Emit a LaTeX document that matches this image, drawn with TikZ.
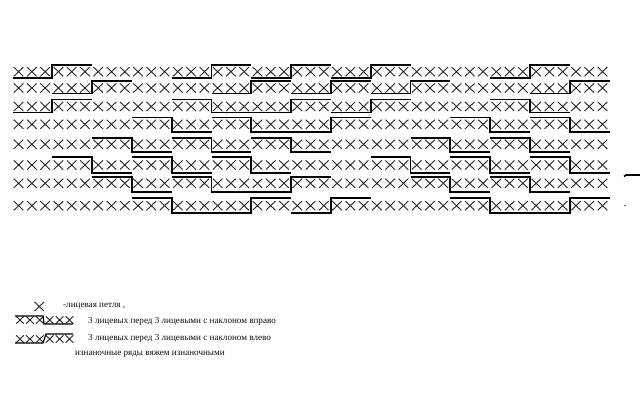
\documentclass[tikz,border=0pt]{standalone}
\usepackage{fontspec}
\setmainfont{Liberation Serif}
\usepackage{xcolor}
\usetikzlibrary{positioning}
\tikzset{
	knit/.pic={\draw[stitch] (-4.8,-4.6) -- (4.8,4.6) (-4.8,4.6) -- (4.8,-4.6);},
	stitch/.style={line width=.9pt,black!85},
	bar/.style={line width=1.7pt,black,line cap=butt,line join=miter},
	legend/.style={font=\fontsize{9.1}{11}\selectfont,inner sep=0pt,anchor=west,black!95}
}
\newcommand{\groupx}[1]{12.5+39.8*#1}

\begin{document}
\begin{tikzpicture}[x=1pt,y=-1pt]
	\useasboundingbox (0,0) rectangle (640,411);
	% row y / top bar / bottom bar / groups rising / groups falling
	\foreach \y/\hi/\lo/\rise/\fall in {
		71.7/65/77.7/{0,4,6,8,12}/{},
		88/81/93.5/{1,5,7,9,13}/{},
		106.5/99.5/112.5/{0,6,8}/{4,12},
		124.3/117.5/132.3/{7}/{3,5,11,13},
		144.3/137.7/152.3/{}/{2,4,6,10,12},
		165/156.7/172.7/{}/{1,3,5,9,11,13},
		183.3/177.3/191.7/{6}/{2,4,10,12},
		205.7/197.7/212.7/{5,7,13}/{3,11}}
	{
		\foreach \n in {0,...,44}
			\pic at (18.6+13.27*\n,\y) {knit};
		\foreach \k in \rise
			\draw[bar] ({\groupx{\k}},\lo) -- ({\groupx{(\k+1)}},\lo) -- ({\groupx{(\k+1)}},\hi) -- ({\groupx{(\k+2)}},\hi);
		\foreach \k in \fall
			\draw[bar] ({\groupx{\k}},\hi) -- ({\groupx{(\k+1)}},\hi) -- ({\groupx{(\k+1)}},\lo) -- ({\groupx{(\k+2)}},\lo);
	}
	
	% marks at the right edge
	\draw[bar] (624,176.5) -- (626,175) -- (640,175);
	\fill[black!80] (625,205.7) circle (.8);
	
	% legend
	\pic at (39.3,306.5) {knit};
	\foreach \n in {0,...,5} {
		\pic[scale=.8] at (20+9.9*\n,320) {knit};
		\pic[scale=.8] at (20+9.9*\n,339) {knit};
	}
	\draw[bar,line width=1.2pt] (15,316) -- (43,316) -- (44,324) -- (73,324);
	\draw[bar,line width=1.2pt] (15,343) -- (43,343) -- (46,334) -- (73,334);
	\node[legend] (looptext) at (63,306.5) {-лицевая петля ,};
	\node[legend] (righttext) at (88,321.5) {3 лицевых перед 3 лицевыми с наклоном вправо};
	\node[legend] (lefttext) at (88,338) {3 лицевых перед 3 лицевыми с наклоном влево};
	\node[legend] (purltext) at (75,354) {изнаночные ряды вяжем изнаночными};
\end{tikzpicture}
\end{document}
